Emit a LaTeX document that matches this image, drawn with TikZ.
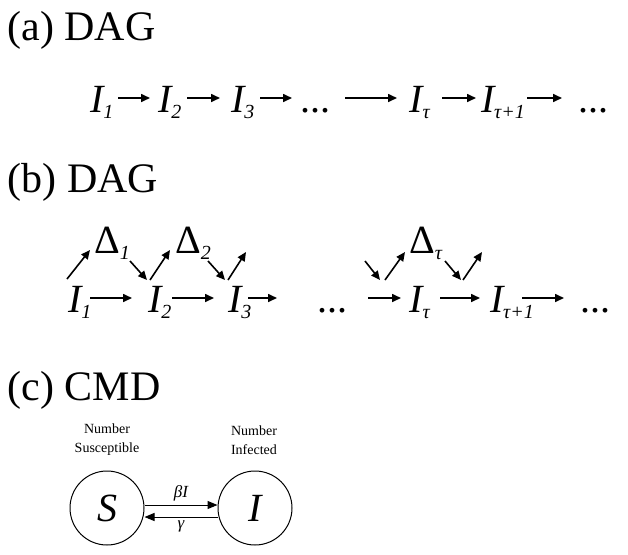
\documentclass[tikz,border=0pt]{standalone}
\usepackage{fontspec}
\setmainfont{Liberation Serif}
\usetikzlibrary{arrows.meta}
\newcommand{\vI}[1]{\textit{I}\raisebox{-6pt}{\fontsize{20}{20}\selectfont\kern-2pt\textit{#1}}}

\begin{document}
\begin{tikzpicture}[x=1pt,y=-1pt,
  lbl/.style={anchor=base west,font=\fontsize{42}{42}\selectfont},
  var/.style={anchor=base,font=\fontsize{40}{40}\selectfont,inner sep=1pt},
  arr/.style={line width=1.6pt,-{Triangle[length=9pt,width=8pt]}},
  state/.style={draw,circle,minimum size=74pt,line width=1pt,font=\fontsize{40}{40}\selectfont\itshape},
  note/.style={align=center,font=\fontsize{14}{19}\selectfont}]
\useasboundingbox (0,0) rectangle (628,554);
% (a)
\node[lbl] (ta) at (4,40) {(a) DAG};
\node[var] (a1) at (102,112) {\vI{1}};
\node[var] (a2) at (170,112) {\vI{2}};
\node[var] (a3) at (243,112) {\vI{3}};
\node[var] (a4) at (315,112) {...};
\node[var] (a5) at (420,112) {\vI{τ}};
\node[var] (a6) at (503,112) {\vI{τ+1}};
\node[var] (a7) at (593,112) {...};
\coordinate (ae) at (562,98);
\draw[arr] (118,98) -- (150,98);
\draw[arr] (187,98) -- (220,98);
\draw[arr] (260,98) -- (292,98);
\draw[arr] (345,98) -- (397,98);
\draw[arr] (442,98) -- (476,98);
\draw[arr] (527,98) -- (ae);
% (b)
\node[lbl] (tb) at (4,192) {(b) DAG};
\node[var] (b1) at (80,312) {\vI{1}};
\node[var] (b2) at (160,312) {\vI{2}};
\node[var] (b3) at (240,312) {\vI{3}};
\node[var] (b4) at (332,312) {...};
\node[var] (b5) at (420,312) {\vI{τ}};
\node[var] (b6) at (512,312) {\vI{τ+1}};
\node[var] (b7) at (595,312) {...};
\draw[arr] (90,298) -- (132,298);
\draw[arr] (172,298) -- (214,298);
\draw[arr] (248,298) -- (277,298);
\draw[arr] (368,298) -- (401,298);
\draw[arr] (440,298) -- (480,298);
\draw[arr] (522,298) -- (564,298);
\node[var] (d1) at (112,253) {Δ\raisebox{-6pt}{\fontsize{20}{20}\selectfont\textit{1}}};
\node[var] (d2) at (193,253) {Δ\raisebox{-6pt}{\fontsize{20}{20}\selectfont\textit{2}}};
\node[var] (d3) at (426,253) {Δ\raisebox{-6pt}{\fontsize{20}{20}\selectfont\textit{τ}}};
\draw[arr] (67,279) -- (90,250);
\draw[arr] (130,261) -- (147,280);
\draw[arr] (150,280) -- (170,250);
\draw[arr] (208,261) -- (225,280);
\draw[arr] (228,280) -- (246,252);
\draw[arr] (365,261) -- (380,280);
\draw[arr] (385,280) -- (405,252);
\draw[arr] (445,261) -- (461,280);
\draw[arr] (463,280) -- (482,252);
% (c)
\node[lbl] (tc) at (4,400) {(c) CMD};
\node[state] (S) at (107,508) {S};
\node[state] (I) at (255,508) {I};
\node[note] (nS) at (107,440) {Number\\Susceptible};
\node[note] (nI) at (254,440) {Number\\Infected};
\draw[line width=1pt,-{Triangle[length=10pt,width=8pt]}] ([yshift=3pt]S.east) -- node[above,font=\fontsize{17}{17}\selectfont\itshape] {βI} ([yshift=3pt]I.west);
\draw[line width=1pt,-{Triangle[length=10pt,width=8pt]}] ([yshift=-9pt]I.west) -- node[below,font=\fontsize{17}{17}\selectfont\itshape] {γ} ([yshift=-9pt]S.east);
\end{tikzpicture}
\end{document}
